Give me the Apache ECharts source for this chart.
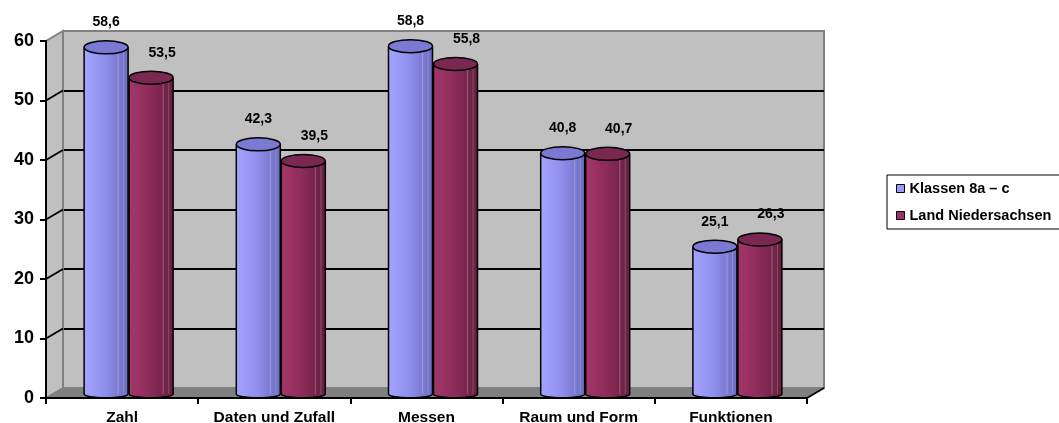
<!DOCTYPE html>
<html>
<head>
<meta charset="utf-8">
<script src="https://cdn.jsdelivr.net/npm/echarts@6/dist/echarts.min.js"></script>
<style>
  html, body { margin: 0; padding: 0; background: #fff; }
  #main { width: 1059px; height: 423px; }
</style>
</head>
<body>
<div id="main"></div>
<script>
// Daten
var categories = ['Zahl', 'Daten und Zufall', 'Messen', 'Raum und Form', 'Funktionen'];
var klassen = [58.6, 42.3, 58.8, 40.8, 25.1];
var land = [53.5, 39.5, 55.8, 40.7, 26.3];
var yTicks = [0, 10, 20, 30, 40, 50, 60];

var FONT = 'Arial, "Liberation Sans", sans-serif';
var DX = 17, DY = -10; // Tiefe der 3D-Wand

function fmt(v) { return v.toFixed(1).replace('.', ','); }

// Zylinder zeichnen
function cylinder(offset, side, topColor, labelShift) {
  return function (params, api) {
    var idx = api.value(0), val = api.value(1);
    var top = api.coord([idx, val]);
    var base = api.coord([idx, 0]);
    var cx = top[0] + offset, w = 44, rx = w / 2;
    var ty = top[1] - 2, by = base[1] - 4;
    var grad = { type: 'linear', x: 0, y: 0, x2: 1, y2: 0, colorStops: side };
    return {
      type: 'group',
      children: [
        { type: 'ellipse', shape: { cx: cx, cy: by, rx: rx, ry: 4 },
          style: { fill: grad, stroke: '#000', lineWidth: 1.5 } },
        { type: 'rect', shape: { x: cx - rx, y: ty, width: w, height: by - ty },
          style: { fill: grad } },
        { type: 'line', shape: { x1: cx + rx * 0.55, y1: ty, x2: cx + rx * 0.55, y2: by },
          style: { stroke: 'rgba(255,255,255,0.25)', lineWidth: 1 } },
        { type: 'line', shape: { x1: cx + rx * 0.8, y1: ty, x2: cx + rx * 0.8, y2: by },
          style: { stroke: 'rgba(255,255,255,0.2)', lineWidth: 1 } },
        { type: 'line', shape: { x1: cx - rx, y1: ty, x2: cx - rx, y2: by },
          style: { stroke: '#000', lineWidth: 1.5 } },
        { type: 'line', shape: { x1: cx + rx, y1: ty, x2: cx + rx, y2: by },
          style: { stroke: '#000', lineWidth: 1.5 } },
        { type: 'ellipse', shape: { cx: cx, cy: ty, rx: rx, ry: 6.5 },
          style: { fill: topColor, stroke: '#000', lineWidth: 1.5 } },
        { type: 'text', x: cx + labelShift, y: top[1] - 27,
          style: { text: fmt(val), fill: '#000', font: 'bold 14px ' + FONT,
                   align: 'center', verticalAlign: 'middle' } }
      ]
    };
  };
}

// Seitenwand und Boden
function walls(params, api) {
  var cs = params.coordSys;
  var x0 = cs.x, x1 = cs.x + cs.width;
  var yb = api.coord([0, 0])[1], yt = api.coord([0, 60])[1];
  var ch = [
    { type: 'polygon', shape: { points: [[x0, yb], [x0, yt], [x0 + DX, yt + DY], [x0 + DX, yb + DY]] },
      style: { fill: '#c0c0c0', stroke: '#808080', lineWidth: 2 } },
    { type: 'polygon', shape: { points: [[x0, yb], [x1, yb], [x1 + DX, yb + DY], [x0 + DX, yb + DY]] },
      style: { fill: '#808080', stroke: '#808080', lineWidth: 1 } },
    { type: 'line', shape: { x1: x1, y1: yb, x2: x1 + DX, y2: yb + DY },
      style: { stroke: '#000', lineWidth: 2 } }
  ];
  yTicks.forEach(function (t) {
    if (t === 0 || t === 60) return;
    var y = api.coord([0, t])[1];
    ch.push({ type: 'line', shape: { x1: x0, y1: y, x2: x0 + DX, y2: y + DY },
      style: { stroke: '#000', lineWidth: 2 } });
  });
  return { type: 'group', children: ch };
}

var chart = echarts.init(document.getElementById('main'));

var option = {
  backgroundColor: '#fff',
  animation: false,
  textStyle: { fontFamily: FONT },
  grid: [
    { left: 63, top: 31, width: 761, height: 357, show: true, outerBoundsMode: 'none',
      backgroundColor: '#c0c0c0', borderColor: '#808080', borderWidth: 2 },
    { left: 46, top: 41, width: 761, height: 357, outerBoundsMode: 'none' }
  ],
  legend: {
    orient: 'vertical', left: 887, top: 175,
    padding: [6, 40, 6, 9], itemGap: 12,
    borderColor: '#000', borderWidth: 1,
    itemWidth: 8, itemHeight: 8, icon: 'rect',
    textStyle: { fontFamily: FONT, fontSize: 14.5, fontWeight: 'bold', color: '#000' },
    data: [
      { name: 'Klassen 8a – c', itemStyle: { color: '#9999ff', borderColor: '#000', borderWidth: 1 } },
      { name: 'Land Niedersachsen', itemStyle: { color: '#993366', borderColor: '#000', borderWidth: 1 } }
    ]
  },
  xAxis: [
    { type: 'category', gridIndex: 0, data: categories, show: false },
    { type: 'category', gridIndex: 1, data: categories, z: 10,
      axisLine: { lineStyle: { color: '#000', width: 2 } },
      axisTick: { show: true, length: 6, lineStyle: { color: '#000', width: 2 } },
      axisLabel: { interval: 0, margin: 12, fontSize: 15.5, fontWeight: 'bold', color: '#000', fontFamily: FONT } }
  ],
  yAxis: [
    { type: 'value', gridIndex: 0, min: 0, max: 60, interval: 10,
      axisLine: { show: false }, axisTick: { show: false }, axisLabel: { show: false },
      splitLine: { show: true, showMinLine: false, showMaxLine: false,
                   lineStyle: { color: '#000', width: 2 } } },
    { type: 'value', gridIndex: 1, min: 0, max: 60, interval: 10, z: 10,
      axisLine: { show: true, lineStyle: { color: '#000', width: 2 } },
      axisTick: { show: true, length: 6, lineStyle: { color: '#000', width: 2 } },
      axisLabel: { margin: 12, fontSize: 18, fontWeight: 'bold', color: '#000', fontFamily: FONT },
      splitLine: { show: false } }
  ],
  series: [
    { type: 'custom', name: 'wall', xAxisIndex: 1, yAxisIndex: 1, z: 1, silent: true,
      renderItem: walls, data: [[0, 0]] },
    { type: 'custom', name: 'Klassen 8a – c', xAxisIndex: 1, yAxisIndex: 1, z: 3,
      itemStyle: { color: '#9999ff' },
      renderItem: cylinder(-16, [
        { offset: 0, color: '#a4a4ff' }, { offset: 0.45, color: '#9090ee' },
        { offset: 1, color: '#6c6cc0' }], '#7a7ad4', 0),
      data: klassen.map(function (v, i) { return [i, v]; }) },
    { type: 'custom', name: 'Land Niedersachsen', xAxisIndex: 1, yAxisIndex: 1, z: 3,
      itemStyle: { color: '#993366' },
      renderItem: cylinder(29, [
        { offset: 0, color: '#a23769' }, { offset: 0.45, color: '#8e2c5a' },
        { offset: 1, color: '#662040' }], '#7a2852', 11),
      data: land.map(function (v, i) { return [i, v]; }) }
  ]
};

chart.setOption(option);
</script>
</body>
</html>
